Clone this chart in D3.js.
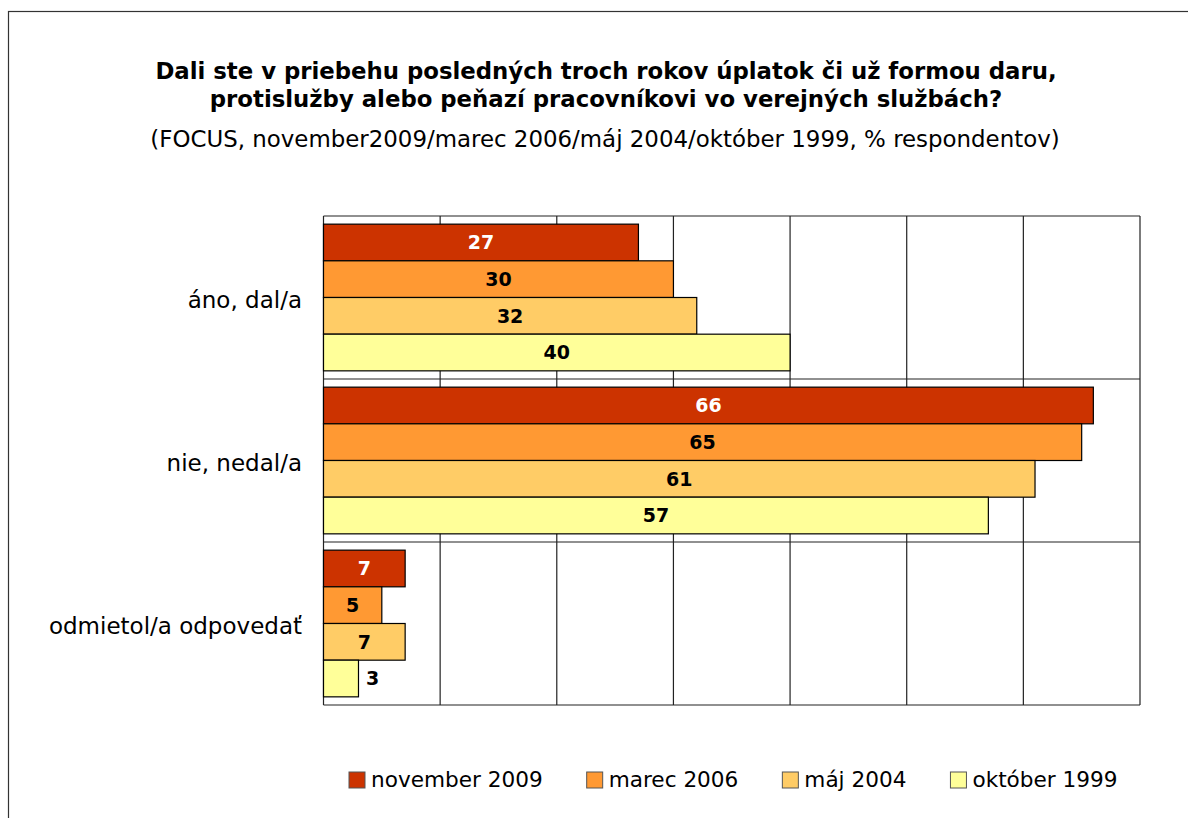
<!DOCTYPE html>
<html>
<head>
<meta charset="utf-8">
<script src="https://cdn.jsdelivr.net/npm/d3@7"></script>
<style>
  body { margin: 0; background: #fff; }
  svg text { font-family: "DejaVu Sans", Verdana, sans-serif; }
</style>
</head>
<body>
<div id="chart"></div>
<script>
// Data
const categories = ["áno, dal/a", "nie, nedal/a", "odmietol/a odpovedať"];
const seriesNames = ["november 2009", "marec 2006", "máj 2004", "október 1999"];
const nov2009 = [27, 66, 7];
const mar2006 = [30, 65, 5];
const maj2004 = [32, 61, 7];
const okt1999 = [40, 57, 3];
const xTicks = [0, 10, 20, 30, 40, 50, 60, 70];

const seriesValues = [nov2009, mar2006, maj2004, okt1999];
const colors = ["#CC3300", "#FF9933", "#FFCC66", "#FFFF99"];
const labelColors = ["#fff", "#000", "#000", "#000"];

const width = 1188;
const height = 818;

const svg = d3.select("#chart")
  .append("svg")
  .attr("width", width)
  .attr("height", height);

// Outer frame
svg.append("rect")
  .attr("x", 8.5).attr("y", 11.5)
  .attr("width", 1300).attr("height", 1000)
  .attr("fill", "#fff")
  .attr("stroke", "#333")
  .attr("stroke-width", 1.2);

// Title
const title = svg.append("g").attr("text-anchor", "middle");
title.append("text")
  .attr("x", 606).attr("y", 79)
  .attr("font-size", 22.8).attr("font-weight", "bold")
  .text("Dali ste v priebehu posledných troch rokov úplatok či už formou daru,");
title.append("text")
  .attr("x", 606).attr("y", 107)
  .attr("font-size", 22.8).attr("font-weight", "bold")
  .text("protislužby alebo peňazí pracovníkovi vo verejných službách?");
title.append("text")
  .attr("x", 605).attr("y", 147)
  .attr("font-size", 22.9)
  .text("(FOCUS, november2009/marec 2006/máj 2004/október 1999, % respondentov)");

// Scales
const plotLeft = 323.5, plotRight = 1140, plotTop = 216, plotBottom = 705;

const x = d3.scaleLinear().domain([0, 70]).range([plotLeft, plotRight]);

const y = d3.scaleBand()
  .domain(categories)
  .range([plotTop, plotBottom])
  .paddingInner(0.1)
  .paddingOuter(0.05);

const ySub = d3.scaleBand()
  .domain(d3.range(seriesNames.length))
  .range([0, y.bandwidth()])
  .padding(0);

// Vertical gridlines
svg.append("g")
  .selectAll("line")
  .data(xTicks)
  .join("line")
  .attr("x1", d => x(d)).attr("x2", d => x(d))
  .attr("y1", plotTop).attr("y2", plotBottom)
  .attr("stroke", "#222")
  .attr("stroke-width", 1.2);

// Category separator lines
const step = y.step();
svg.append("g")
  .selectAll("line")
  .data(d3.range(categories.length + 1))
  .join("line")
  .attr("x1", plotLeft).attr("x2", plotRight)
  .attr("y1", d => plotTop + d * step).attr("y2", d => plotTop + d * step)
  .attr("stroke", "#222")
  .attr("stroke-width", 1.2);

// Bars
const barData = [];
categories.forEach((c, ci) => {
  seriesValues.forEach((vals, si) => {
    barData.push({ cat: c, s: si, v: vals[ci] });
  });
});

svg.append("g")
  .selectAll("rect")
  .data(barData)
  .join("rect")
  .attr("x", x(0))
  .attr("y", d => y(d.cat) + ySub(d.s))
  .attr("width", d => x(d.v) - x(0))
  .attr("height", ySub.bandwidth())
  .attr("fill", d => colors[d.s])
  .attr("stroke", "#000")
  .attr("stroke-width", 1.2);

// Value labels
svg.append("g")
  .selectAll("text")
  .data(barData)
  .join("text")
  .attr("x", d => (x(d.v) - x(0)) < 40 ? x(d.v) + 14 : (x(0) + x(d.v)) / 2)
  .attr("y", d => y(d.cat) + ySub(d.s) + ySub.bandwidth() / 2)
  .attr("dy", "0.36em")
  .attr("text-anchor", "middle")
  .attr("font-size", 19)
  .attr("font-weight", "bold")
  .attr("fill", d => (x(d.v) - x(0)) < 40 ? "#000" : labelColors[d.s])
  .text(d => d.v);

// Category labels
svg.append("g")
  .selectAll("text")
  .data(categories)
  .join("text")
  .attr("x", 302)
  .attr("y", (d, i) => plotTop + i * step + step / 2 + 2)
  .attr("dy", "0.36em")
  .attr("text-anchor", "end")
  .attr("font-size", 23)
  .text(d => d);

// Legend
const legend = svg.append("g");
let lx = 349;
seriesNames.forEach((name, i) => {
  legend.append("rect")
    .attr("x", lx).attr("y", 772)
    .attr("width", 16).attr("height", 16)
    .attr("fill", colors[i])
    .attr("stroke", "#555")
    .attr("stroke-width", 1);
  const t = legend.append("text")
    .attr("x", lx + 22).attr("y", 779)
    .attr("dy", "0.36em")
    .attr("font-size", 21.6)
    .text(name);
  lx += 22 + t.node().getComputedTextLength() + 44;
});
</script>
</body>
</html>
